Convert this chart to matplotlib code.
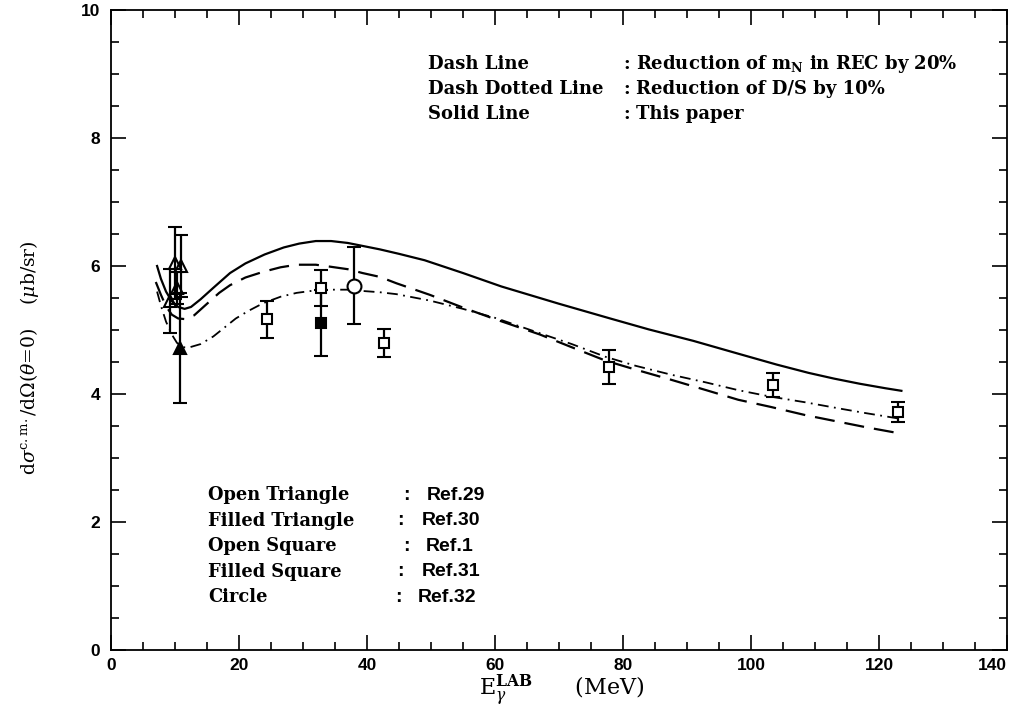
import matplotlib
matplotlib.use("Agg")
import matplotlib.pyplot as plt
from matplotlib.ticker import MultipleLocator
from matplotlib import font_manager

plt.rcParams['mathtext.fontset'] = 'dejavuserif'

# ---- theory curves ----
solid_x = [7.2, 7.8, 8.6, 9.5, 10.5, 11.5, 12.5, 14, 16, 18.6, 21, 24, 27, 29.4, 32, 34.4, 37, 39.5, 42, 45, 49, 55, 61, 70, 78, 84, 91, 98, 104, 109, 113, 117, 121, 123.5]
solid_y = [6.0, 5.8, 5.6, 5.45, 5.36, 5.33, 5.36, 5.48, 5.66, 5.89, 6.04, 6.18, 6.29, 6.35, 6.39, 6.39, 6.36, 6.31, 6.26, 6.19, 6.09, 5.89, 5.68, 5.41, 5.18, 5.01, 4.83, 4.63, 4.46, 4.33, 4.24, 4.16, 4.09, 4.05]

dash_x = [7.0, 7.8, 8.6, 9.5, 10.5, 11.6, 13, 15, 16.9, 18.6, 21, 23.8, 26.5, 29, 32, 34.2, 37, 39.3, 42, 44.6, 49.8, 55, 60, 67, 72, 77.3, 82, 87.6, 93, 98, 103, 108.5, 114, 118, 123.5]
dash_y = [5.75, 5.55, 5.37, 5.24, 5.18, 5.17, 5.23, 5.41, 5.58, 5.70, 5.82, 5.91, 5.98, 6.02, 6.02, 5.99, 5.95, 5.89, 5.83, 5.73, 5.55, 5.35, 5.17, 4.93, 4.73, 4.52, 4.38, 4.22, 4.06, 3.91, 3.80, 3.67, 3.56, 3.48, 3.38]

dd_x = [7.2, 7.8, 8.6, 9.5, 10.3, 11.2, 12.3, 14, 16, 18, 19.5, 21.5, 23.8, 26.5, 29, 32, 34.2, 37, 39.3, 42, 44.6, 49.8, 55, 60, 67, 72, 77.3, 82, 87.6, 93, 98, 103, 108.5, 114, 118, 123.5]
dd_y = [5.6, 5.38, 5.13, 4.93, 4.8, 4.73, 4.73, 4.78, 4.9, 5.06, 5.18, 5.3, 5.42, 5.52, 5.58, 5.62, 5.63, 5.63, 5.61, 5.59, 5.56, 5.46, 5.33, 5.19, 4.95, 4.78, 4.58, 4.44, 4.30, 4.18, 4.06, 3.96, 3.87, 3.77, 3.70, 3.61]

# ---- data points ----
otri_x = [9.2, 10.0, 10.3, 10.9]
otri_y = [5.45, 6.05, 5.65, 6.0]
otri_e = [0.5, 0.56, 0.25, 0.48]

ftri_x = [10.8]
ftri_y = [4.72]
ftri_e = [0.86]

osq_x = [24.4, 32.8, 42.7, 77.8, 103.5, 123.0]
osq_y = [5.17, 5.66, 4.80, 4.42, 4.14, 3.72]
osq_e = [0.29, 0.28, 0.22, 0.27, 0.19, 0.16]

fsq_x = [32.8]
fsq_y = [5.11]
fsq_e = [0.52]

circ_x = [38.0]
circ_y = [5.69]
circ_e = [0.60]

xticks = [0, 20, 40, 60, 80, 100, 120, 140]
xticklabels = ["0", "20", "40", "60", "80", "100", "120", "140"]
yticks = [0, 2, 4, 6, 8, 10]
yticklabels = ["0", "2", "4", "6", "8", "10"]

installed = {f.name for f in font_manager.fontManager.ttflist}
tickfam = 'Liberation Sans Narrow' if 'Liberation Sans Narrow' in installed else 'Liberation Sans'

W, H = 1016, 713
fig = plt.figure(figsize=(W / 100, H / 100), dpi=100)
ax = fig.add_axes([111 / W, 1 - 650 / H, (1007 - 111) / W, (650 - 10) / H])

ax.plot(solid_x, solid_y, color='black', lw=1.6, ls='-')
ax.plot(dash_x, dash_y, color='black', lw=1.6, ls=(0, (9, 4.5)))
ax.plot(dd_x, dd_y, color='black', lw=1.3, ls=(0, (6, 3, 1, 3)))

ekw = dict(color='black', ecolor='black', elinewidth=1.6, capsize=5, capthick=1.6, ls='none')
ax.errorbar(osq_x, osq_y, yerr=osq_e, marker='s', ms=7, mfc='white', mec='black', mew=1.5, **ekw)
ax.errorbar(fsq_x, fsq_y, yerr=fsq_e, marker='s', ms=7, mfc='black', mec='black', mew=1.5, **ekw)
ax.errorbar(circ_x, circ_y, yerr=circ_e, marker='o', ms=10, mfc='white', mec='black', mew=1.5, **ekw)
ax.errorbar(otri_x, otri_y, yerr=otri_e, marker='^', ms=8, mfc='none', mec='black', mew=1.5, **ekw)
ax.errorbar(ftri_x, ftri_y, yerr=ftri_e, marker='^', ms=8, mfc='black', mec='black', mew=1.5, **ekw)

ax.set_xlim(0, 140)
ax.set_ylim(0, 10)
tfont = dict(fontfamily=tickfam, fontweight='bold', fontsize=12.5)
ax.set_xticks(xticks, labels=xticklabels, **tfont)
ax.set_yticks(yticks, labels=yticklabels, **tfont)
ax.get_xticklabels()[-1].set_ha('right')
ax.xaxis.set_minor_locator(MultipleLocator(5))
ax.yaxis.set_minor_locator(MultipleLocator(0.5))
ax.tick_params(which='both', direction='in', top=True, right=True, width=1.2)
ax.tick_params(which='major', length=11)
ax.tick_params(which='minor', length=6)
ax.tick_params(axis='x', pad=6)
ax.tick_params(axis='y', pad=8)
for s in ax.spines.values():
    s.set_linewidth(1.3)

def px(x, y):
    return x / W, 1 - y / H

sfont = dict(family='DejaVu Serif', weight='bold', fontsize=13, va='center', ha='left')
bfont = dict(family='DejaVu Serif', weight='bold', fontsize=12.8, va='center', ha='left')
hfont = dict(family='Liberation Sans', weight='bold', fontsize=14, va='center', ha='left')

# top legend
top_rows = [("Dash Line", "Reduction of m$_{\\mathbf{N}}$ in REC by 20%"),
            ("Dash Dotted Line", "Reduction of D/S by 10%"),
            ("Solid Line", "This paper")]
for i, (a, b) in enumerate(top_rows):
    yy = 64 + i * 25
    fig.text(*px(428, yy), a, **sfont)
    fig.text(*px(623, yy), ":", **sfont)
    fig.text(*px(636, yy), b, **sfont)

# bottom legend
bot_rows = [("Open Triangle", 403, 427, "Ref.29"),
            ("Filled Triangle", 397, 422, "Ref.30"),
            ("Open Square", 403, 426, "Ref.1"),
            ("Filled Square", 397, 422, "Ref.31"),
            ("Circle", 395, 418, "Ref.32")]
for i, (a, cx, rx, b) in enumerate(bot_rows):
    yy = 495 + i * 25.6
    fig.text(*px(208, yy), a, **bfont)
    fig.text(*px(cx, yy), ":", **hfont)
    fig.text(*px(rx, yy), b, **hfont)

# axis labels
fig.text(*px(562, 690), r"E$_{\gamma}^{\mathbf{LAB}}$      (MeV)", family='DejaVu Serif',
         fontsize=16, ha='center', va='center')
fig.text(*px(30, 358), r"d$\sigma^{\rm c{.}m{.}}$/d$\Omega$($\theta$=0)    ($\mu$b/sr)", family='DejaVu Serif',
         fontsize=13.5, ha='center', va='center', rotation=90)

fig.savefig("out.png", dpi=100)
